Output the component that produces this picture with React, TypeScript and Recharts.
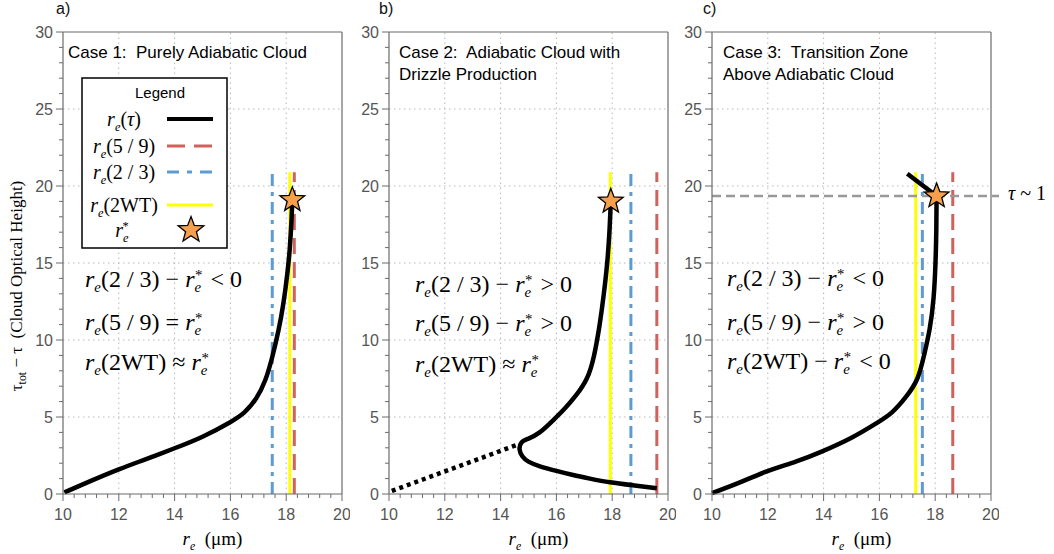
import React from 'react'
import { ComposedChart, Line, Scatter, XAxis, YAxis, ReferenceLine } from 'recharts'

// axes
const xMajor = [10, 12, 14, 16, 18, 20]
const yMajor = [0, 5, 10, 15, 20, 25, 30]
const xTicks = Array.from({ length: 26 }, (_, i) => Math.round((10 + i * 0.4) * 10) / 10)
const yTicks = Array.from({ length: 31 }, (_, i) => i)

// r_e(tau) profiles (x = r_e in um, y = tau_tot - tau)
const curveA = [
  { x: 10.05, y: 0.1 }, { x: 11.0, y: 0.85 }, { x: 12.0, y: 1.6 }, { x: 13.0, y: 2.28 },
  { x: 14.0, y: 2.97 }, { x: 15.0, y: 3.72 }, { x: 15.96, y: 4.63 }, { x: 16.5, y: 5.3 },
  { x: 16.92, y: 6.2 }, { x: 17.25, y: 7.4 }, { x: 17.5, y: 8.9 }, { x: 17.72, y: 10.6 },
  { x: 17.9, y: 12.4 }, { x: 18.04, y: 14.3 }, { x: 18.13, y: 16.0 }, { x: 18.19, y: 17.8 },
  { x: 18.22, y: 19.1 },
]
const curveB = [
  { x: 19.6, y: 0.37 }, { x: 18.8, y: 0.55 }, { x: 17.92, y: 0.76 }, { x: 17.2, y: 1.0 },
  { x: 16.6, y: 1.23 }, { x: 16.0, y: 1.5 }, { x: 15.41, y: 1.8 }, { x: 15.0, y: 2.1 },
  { x: 14.78, y: 2.45 }, { x: 14.68, y: 2.9 }, { x: 14.75, y: 3.35 }, { x: 15.0, y: 3.6 },
  { x: 15.4, y: 4.0 }, { x: 15.89, y: 4.8 }, { x: 16.3, y: 5.55 }, { x: 16.7, y: 6.4 },
  { x: 17.09, y: 7.5 }, { x: 17.35, y: 9.0 }, { x: 17.55, y: 11.0 }, { x: 17.7, y: 13.0 },
  { x: 17.82, y: 15.0 }, { x: 17.9, y: 17.0 }, { x: 17.95, y: 19.0 },
]
const drizzleB = [{ x: 10.1, y: 0.2 }, { x: 14.6, y: 3.2 }]
const curveC = [
  { x: 10.0, y: 0.05 }, { x: 11.0, y: 0.75 }, { x: 11.94, y: 1.45 }, { x: 13.0, y: 2.1 },
  { x: 13.93, y: 2.75 }, { x: 15.0, y: 3.65 }, { x: 15.9, y: 4.6 }, { x: 16.45, y: 5.3 },
  { x: 16.95, y: 6.3 }, { x: 17.36, y: 7.5 }, { x: 17.6, y: 9.0 }, { x: 17.8, y: 10.7 },
  { x: 17.94, y: 12.7 }, { x: 18.01, y: 15.0 }, { x: 18.04, y: 17.2 }, { x: 18.05, y: 19.35 },
]
const topC = [{ x: 18.05, y: 19.35 }, { x: 17.0, y: 20.8 }]

// retrieved radii per case (a, b, c)
const re23 = [17.5, 18.67, 17.54]
const re59 = [18.29, 19.6, 18.63]
const re2wt = [18.13, 17.93, 17.3]
const reStarPts = [{ x: 18.22, y: 19.1 }, { x: 17.95, y: 19.0 }, { x: 18.05, y: 19.35 }]
const lineTop = 20.9
const tauOne = 19.35

const SANS = "'Liberation Sans', Arial, sans-serif"
const SERIF = "'Liberation Serif', 'Times New Roman', serif"
const AX = '#6b6b6b'
const RED = '#cf625c'
const BLUE = '#5e9bd3'
const YEL = '#ffff00'
const STARFILL = '#f6a04d'
const PW = 279
const plotLefts = [63, 389, 712]

const isMajorX = (v: number) => xMajor.some((m) => Math.abs(m - v) < 1e-6)
const isMajorY = (v: number) => yMajor.some((m) => Math.abs(m - v) < 1e-6)

function makeTick(side: 'bottom' | 'top' | 'left' | 'right', label: boolean) {
  return (p: any) => {
    const v = p.payload.value
    const { x, y } = p
    const major = side === 'bottom' || side === 'top' ? isMajorX(v) : isMajorY(v)
    const L = major ? 7 : 4
    const txt = { fontFamily: SANS, fontSize: 16, fill: '#555' }
    if (side === 'bottom')
      return (
        <g>
          <line x1={x} y1={y} x2={x} y2={y + L} stroke={AX} />
          {label && major && <text x={x} y={y + 26} textAnchor="middle" {...txt}>{v}</text>}
        </g>
      )
    if (side === 'top') return <line x1={x} y1={y} x2={x} y2={y - L} stroke={AX} />
    if (side === 'left')
      return (
        <g>
          <line x1={x} y1={y} x2={x - L} y2={y} stroke={AX} />
          {label && major && <text x={x - 10} y={y + 5.5} textAnchor="end" {...txt}>{v}</text>}
        </g>
      )
    return <line x1={x} y1={y} x2={x + L} y2={y} stroke={AX} />
  }
}

function starPoints(cx: number, cy: number, R: number) {
  const pts: string[] = []
  for (let k = 0; k < 10; k++) {
    const r = k % 2 === 0 ? R : R * 0.42
    const a = -Math.PI / 2 + (k * Math.PI) / 5
    pts.push(`${cx + r * Math.cos(a)},${cy + r * Math.sin(a)}`)
  }
  return pts.join(' ')
}
const StarShape = (p: any) => (
  <polygon points={starPoints(p.cx, p.cy, 13)} fill={STARFILL} stroke="#000" strokeWidth={1.3} />
)

const vert = (x: number) => [{ x, y: 0 }, { x, y: lineTop }]

function Panel({ i }: { i: number }) {
  const curve = [curveA, curveB, curveC][i]
  const ids = { xAxisId: 'b', yAxisId: 'l' }
  const common = { dataKey: 'y', dot: false, activeDot: false, isAnimationActive: false, ...ids }
  return (
    <div style={{ position: 'absolute', left: plotLefts[i] - 45, top: 0 }}>
      <ComposedChart width={45 + PW + 8} height={554} margin={{ top: 24, right: 0, bottom: 30, left: 0 }}>
        <XAxis xAxisId="b" type="number" dataKey="x" domain={[10, 20]} ticks={xTicks} interval={0} height={30}
          tickSize={0} tickMargin={0} tickLine={false} axisLine={{ stroke: AX, strokeWidth: 1.2 }} tick={makeTick('bottom', true)} />
        <XAxis xAxisId="t" orientation="top" type="number" dataKey="x" domain={[10, 20]} ticks={xTicks} interval={0} height={8}
          tickSize={0} tickMargin={0} tickLine={false} axisLine={{ stroke: AX, strokeWidth: 1.2 }} tick={makeTick('top', false)} />
        <YAxis yAxisId="l" type="number" dataKey="y" domain={[0, 30]} ticks={yTicks} interval={0} width={45}
          tickSize={0} tickMargin={0} tickLine={false} axisLine={{ stroke: AX, strokeWidth: 1.2 }} tick={makeTick('left', true)} />
        <YAxis yAxisId="r" orientation="right" type="number" dataKey="y" domain={[0, 30]} ticks={yTicks} interval={0} width={8}
          tickSize={0} tickMargin={0} tickLine={false} axisLine={{ stroke: AX, strokeWidth: 1.2 }} tick={makeTick('right', false)} />
        {xMajor.slice(1, -1).map((v) => (
          <ReferenceLine key={'gx' + v} {...ids} x={v} stroke="#b8b8b8" strokeDasharray="1.5 3.5" />
        ))}
        {yMajor.slice(1, -1).map((v) => (
          <ReferenceLine key={'gy' + v} {...ids} y={v} stroke="#b8b8b8" strokeDasharray="1.5 3.5" />
        ))}
        <Line {...common} data={vert(re59[i])} stroke={RED} strokeWidth={3} strokeDasharray="16 8" />
        <Line {...common} data={vert(re23[i])} stroke={BLUE} strokeWidth={3} strokeDasharray="12 6 4 6" />
        <Line {...common} data={vert(re2wt[i])} stroke={YEL} strokeWidth={3} />
        {i === 2 && (
          <ReferenceLine {...ids} segment={[{ x: 10, y: tauOne }, { x: 20.5, y: tauOne }]} ifOverflow="visible"
            stroke="#999" strokeWidth={2.5} strokeDasharray="9 5" />
        )}
        {i === 1 && <Line {...common} data={drizzleB} type="linear" stroke="#000" strokeWidth={4.5} strokeDasharray="4 4" />}
        <Line {...common} data={curve} type="natural" stroke="#000" strokeWidth={4.5} />
        {i === 2 && <Line {...common} data={topC} type="linear" stroke="#000" strokeWidth={4.5} />}
        <Scatter {...ids} data={[reStarPts[i]]} shape={StarShape} isAnimationActive={false} />
      </ComposedChart>
    </div>
  )
}

// text helpers (tspans keep a shared baseline through relative dy)
function reT(k: string, arg: React.ReactNode) {
  return [
    <tspan key={k + 'r'} fontStyle="italic">r</tspan>,
    <tspan key={k + 'e'} fontStyle="italic" fontSize="0.62em" dy={5}>e</tspan>,
    <tspan key={k + 'a'} dy={-5}>{arg}</tspan>,
  ]
}
function reStarT(k: string, after: string) {
  return [
    <tspan key={k + 'r'} fontStyle="italic">r</tspan>,
    <tspan key={k + 'e'} fontStyle="italic" fontSize="0.62em" dy={5}>e</tspan>,
    <tspan key={k + 's'} fontSize="0.62em" dx={-6} dy={-12}>*</tspan>,
    <tspan key={k + 't'} dx={2} dy={7}>{after}</tspan>,
  ]
}

const eqs = [
  [
    [...reT('a', '(2 / 3) − '), ...reStarT('b', ' < 0')],
    [...reT('a', '(5 / 9) = '), ...reStarT('b', '')],
    [...reT('a', '(2WT) ≈ '), ...reStarT('b', '')],
  ],
  [
    [...reT('a', '(2 / 3) − '), ...reStarT('b', ' > 0')],
    [...reT('a', '(5 / 9) − '), ...reStarT('b', ' > 0')],
    [...reT('a', '(2WT) ≈ '), ...reStarT('b', '')],
  ],
  [
    [...reT('a', '(2 / 3) − '), ...reStarT('b', ' < 0')],
    [...reT('a', '(5 / 9) − '), ...reStarT('b', ' > 0')],
    [...reT('a', '(2WT) − '), ...reStarT('b', ' < 0')],
  ],
]
const eqX = [85, 415, 727]
const eqY = [[287, 330, 370], [292, 331, 372], [286, 330, 369]]
const titles = [
  ['Case 1:  Purely Adiabatic Cloud'],
  ['Case 2:  Adiabatic Cloud with', 'Drizzle Production'],
  ['Case 3:  Transition Zone', 'Above Adiabatic Cloud'],
]
const titleX = [68, 399, 723]
const letters = ['a)', 'b)', 'c)']
const letterX = [56, 379, 703]

function Overlay() {
  const pre = { whiteSpace: 'pre' as const }
  return (
    <svg width={1054} height={554} style={{ position: 'absolute', left: 0, top: 0, pointerEvents: 'none' }}>
      {letters.map((t, i) => (
        <text key={t} x={letterX[i]} y={14} fontFamily={SANS} fontSize={16} fill="#111">{t}</text>
      ))}
      {titles.map((lines, i) =>
        lines.map((t, j) => (
          <text key={t} x={titleX[i]} y={58 + j * 22} fontFamily={SANS} fontSize={17} fill="#000" style={pre}>{t}</text>
        ))
      )}
      {eqs.map((rows, i) =>
        rows.map((parts, j) => (
          <text key={i + '-' + j} x={eqX[i]} y={eqY[i][j]} fontFamily={SERIF} fontSize={24} fill="#000" style={pre}>{parts}</text>
        ))
      )}
      {/* legend */}
      <rect x={82} y={78} width={145} height={170} fill="#fff" stroke="#000" strokeWidth={1.5} />
      <text x={160} y={98} textAnchor="middle" fontFamily={SANS} fontSize={15}>Legend</text>
      <g fontFamily={SERIF} fontSize={20} style={pre}>
        <text x={124} y={126} textAnchor="middle">
          {reT('l1', <>(<tspan fontStyle="italic">τ</tspan>)</>)}
        </text>
        <text x={124} y={153} textAnchor="middle">{reT('l2', '(5 / 9)')}</text>
        <text x={124} y={179} textAnchor="middle">{reT('l3', '(2 / 3)')}</text>
        <text x={124} y={212} textAnchor="middle">{reT('l4', '(2WT)')}</text>
        <text x={122} y={237} textAnchor="middle">{reStarT('l5', '')}</text>
      </g>
      <line x1={167} y1={119} x2={213} y2={119} stroke="#000" strokeWidth={4} />
      <line x1={167} y1={146} x2={213} y2={146} stroke={RED} strokeWidth={3} strokeDasharray="18 9" />
      <line x1={167} y1={172} x2={213} y2={172} stroke={BLUE} strokeWidth={3} strokeDasharray="12 8 5 8" />
      <line x1={167} y1={205} x2={213} y2={205} stroke={YEL} strokeWidth={3} />
      <polygon points={starPoints(191, 230, 13.5)} fill={STARFILL} stroke="#000" strokeWidth={1.3} />
      {/* axis titles */}
      <text transform="translate(22,286) rotate(-90)" textAnchor="middle" fontFamily={SERIF} fontSize={17} style={pre}>
        <tspan>τ</tspan>
        <tspan fontSize="0.7em" dy={4}>tot</tspan>
        <tspan dy={-4}>{' − τ  (Cloud Optical Height)'}</tspan>
      </text>
      {plotLefts.map((l) => (
        <text key={'xl' + l} x={l + PW / 2 + 10} y={545} textAnchor="middle" fontFamily={SERIF} fontSize={19} style={pre}>
          {reT('x' + l, '  (μm)')}
        </text>
      ))}
      <text x={1008} y={200} fontFamily={SERIF} fontSize={20} style={pre}>
        <tspan fontStyle="italic">τ</tspan>
        <tspan>{' ~ 1'}</tspan>
      </text>
    </svg>
  )
}

export default function App() {
  return (
    <div style={{ position: 'absolute', left: 0, top: 0, width: 1054, height: 554, background: '#fff', overflow: 'hidden' }}>
      <Panel i={0} />
      <Panel i={1} />
      <Panel i={2} />
      <Overlay />
    </div>
  )
}
